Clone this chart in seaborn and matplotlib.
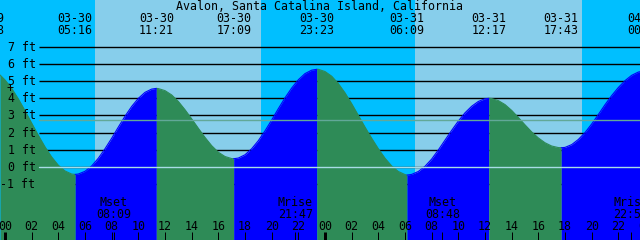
import matplotlib
matplotlib.use("Agg")
import matplotlib.pyplot as plt
import seaborn as sns
import pandas as pd
import numpy as np

# ---- data (hours since 03-30 00:00, feet) ----
reading_hours = [
    -0.375, 0.0, 0.5, 1.0, 1.5, 2.0, 2.5, 3.0, 3.5, 4.0, 4.5, 5.0, 5.267,
    5.5, 6.0, 6.5, 7.0, 7.5, 8.0, 8.5, 9.0, 9.5, 10.0, 10.5, 11.0, 11.35,
    11.5, 12.0, 12.5, 13.0, 13.5, 14.0, 14.5, 15.0, 15.5, 16.0, 16.5, 17.0, 17.15,
    17.5, 18.0, 18.5, 19.0, 19.5, 20.0, 20.5, 21.0, 21.5, 22.0, 22.5, 23.0, 23.383,
    23.5, 24.0, 24.5, 25.0, 25.5, 26.0, 26.5, 27.0, 27.5, 28.0, 28.5, 29.0, 29.5, 30.0, 30.15,
    30.5, 31.0, 31.5, 32.0, 32.5, 33.0, 33.5, 34.0, 34.5, 35.0, 35.5, 36.0, 36.283,
    36.5, 37.0, 37.5, 38.0, 38.5, 39.0, 39.5, 40.0, 40.5, 41.0, 41.5, 41.717,
    42.0, 42.5, 43.0, 43.5, 44.0, 44.5, 45.0, 45.5, 46.0, 46.5, 47.0, 47.5, 47.625]
reading_feet = [
    5.35, 5.06, 4.57, 3.96, 3.27, 2.55, 1.84, 1.17, 0.58, 0.10, -0.23, -0.41, -0.43,
    -0.41, -0.25, 0.06, 0.51, 1.06, 1.67, 2.32, 2.95, 3.52, 3.99, 4.34, 4.53, 4.57,
    4.56, 4.44, 4.19, 3.81, 3.33, 2.80, 2.25, 1.72, 1.24, 0.86, 0.61, 0.49, 0.48,
    0.52, 0.71, 1.06, 1.53, 2.10, 2.73, 3.39, 4.02, 4.59, 5.07, 5.43, 5.63, 5.68,
    5.68, 5.55, 5.28, 4.85, 4.31, 3.68, 3.00, 2.32, 1.67, 1.06, 0.51, 0.06, -0.26, -0.44, -0.47,
    -0.43, -0.26, 0.04, 0.46, 0.99, 1.56, 2.13, 2.67, 3.15, 3.53, 3.81, 3.97, 3.99,
    3.98, 3.86, 3.63, 3.29, 2.88, 2.45, 2.04, 1.69, 1.41, 1.22, 1.13, 1.12,
    1.14, 1.30, 1.60, 2.00, 2.50, 3.05, 3.62, 4.15, 4.62, 5.02, 5.33, 5.52, 5.54]

extreme_hours = [-1.367, 5.267, 11.35, 17.15, 23.383, 30.15, 36.283, 41.717, 48.017]
extreme_dates = ["03-29", "03-30", "03-30", "03-30", "03-30", "03-31", "03-31", "03-31", "04-01"]
extreme_times = ["22:38", "05:16", "11:21", "17:09", "23:23", "06:09", "12:17", "17:43", "00:01"]

moon_hours = [8.15, 21.783, 32.8, 46.917]
moon_events = ["Mset", "Mrise", "Mset", "Mrise"]
moon_times = ["08:09", "21:47", "08:48", "22:55"]

sun_rise_hours = [6.75, 30.75]
sun_set_hours = [19.2, 43.3]

grid_feet = [-1, 0, 1, 2, 3, 4, 5, 6, 7]
grid_labels = ["-1 ft", "0 ft", "1 ft", "2 ft", "3 ft", "4 ft", "5 ft", "6 ft", "7 ft"]
msl_feet = 2.71
title = "Avalon, Santa Catalina Island, California"

# ---- layout helpers (pixel -> data) ----
def hx(xp):
    return (xp - 5) / 13.3333

def fy(yp):
    return (167 - yp) / 17.2

X0, X1 = hx(0), hx(640)
Y0, Y1 = fy(240), fy(0)

NIGHT = "#00BFFF"
DAY = "#87CEEB"
FLOOD = "#0000FF"
EBB = "#2E8B57"
FONT = dict(family="DejaVu Sans Mono", size=8.4, color="black")

sns.set_theme(style="white")
fig = plt.figure(figsize=(6.4, 2.4), dpi=100)
ax = fig.add_axes([0, 0, 1, 1])

# day / night background
ax.axvspan(X0 - 1, sun_rise_hours[0], color=NIGHT, lw=0, zorder=0)
ax.axvspan(sun_rise_hours[0], sun_set_hours[0], color=DAY, lw=0, zorder=0)
ax.axvspan(sun_set_hours[0], sun_rise_hours[1], color=NIGHT, lw=0, zorder=0)
ax.axvspan(sun_rise_hours[1], sun_set_hours[1], color=DAY, lw=0, zorder=0)
ax.axvspan(sun_set_hours[1], X1 + 1, color=NIGHT, lw=0, zorder=0)

# black grid lines behind the tide
for f in grid_feet:
    ax.plot([hx(39), X1 + 1], [f, f], color="black", lw=1.0, zorder=1,
            solid_capstyle="butt")

# build segments between extremes (ebb = falling, flood = rising)
rows = []
h_arr = np.array(reading_hours)
f_arr = np.array(reading_feet)
for i in range(len(extreme_hours) - 1):
    a, b = extreme_hours[i], extreme_hours[i + 1]
    m = (h_arr >= a - 1e-6) & (h_arr <= b + 1e-6)
    if m.sum() < 2:
        continue
    sh, sf = h_arr[m], f_arr[m]
    phase = "ebb" if i % 2 == 0 else "flood"
    for hh, ff in zip(sh, sf):
        rows.append(dict(hour=hh, height=ff, phase=phase, seg=i))
df = pd.DataFrame(rows)

for seg, g in df.groupby("seg"):
    col = EBB if g["phase"].iloc[0] == "ebb" else FLOOD
    ax.fill_between(g["hour"], g["height"], Y0 - 1, color=col, lw=0, zorder=2)

sns.lineplot(data=df, x="hour", y="height", hue="phase", units="seg",
             estimator=None, palette={"ebb": EBB, "flood": FLOOD},
             legend=False, lw=0.8, ax=ax, zorder=3)

# datum and mean sea level lines
ax.plot([hx(39), X1 + 1], [0, 0], color="#a8dce6", lw=1.0, zorder=4)
ax.plot([hx(39), X1 + 1], [msl_feet, msl_feet], color="#62a898", lw=1.0, zorder=4)

# y labels
for f, lab in zip(grid_feet, grid_labels):
    ax.text(hx(35.5), f - 4.0 / 17.2, lab, ha="right", va="baseline", zorder=6, **FONT)
ax.text(hx(10), fy(92), "+", ha="center", va="baseline", zorder=6, **FONT)

# title and extreme labels
ax.text(hx(320), fy(10.5), title, ha="center", va="baseline", zorder=6, **FONT)
for h, d, t in zip(extreme_hours, extreme_dates, extreme_times):
    ax.text(h, fy(21.7), d, ha="center", va="baseline", zorder=6, clip_on=False, **FONT)
    ax.text(h, fy(34.3), t, ha="center", va="baseline", zorder=6, clip_on=False, **FONT)

# bottom hour ticks and labels
for h in range(0, 50, 2):
    ax.text(h, fy(230), f"{h % 24:02d}", ha="center", va="baseline", zorder=6,
            clip_on=False, **FONT)
    lw = 2.16 if h % 24 == 0 else 0.72
    ax.plot([h, h], [fy(232), fy(241)], color="black", lw=lw, zorder=6,
            solid_capstyle="butt")

# moon events
for h, e, t in zip(moon_hours, moon_events, moon_times):
    ax.text(h, fy(206), e, ha="center", va="baseline", zorder=6, clip_on=False, **FONT)
    ax.text(h, fy(217.5), t, ha="center", va="baseline", zorder=6, clip_on=False, **FONT)
    ax.plot([h, h], [fy(232), fy(241)], color="black", lw=0.72, zorder=6,
            solid_capstyle="butt")

ax.set_xlim(X0, X1)
ax.set_ylim(Y0, Y1)
ax.set_axis_off()
fig.savefig("out.png", dpi=100)
